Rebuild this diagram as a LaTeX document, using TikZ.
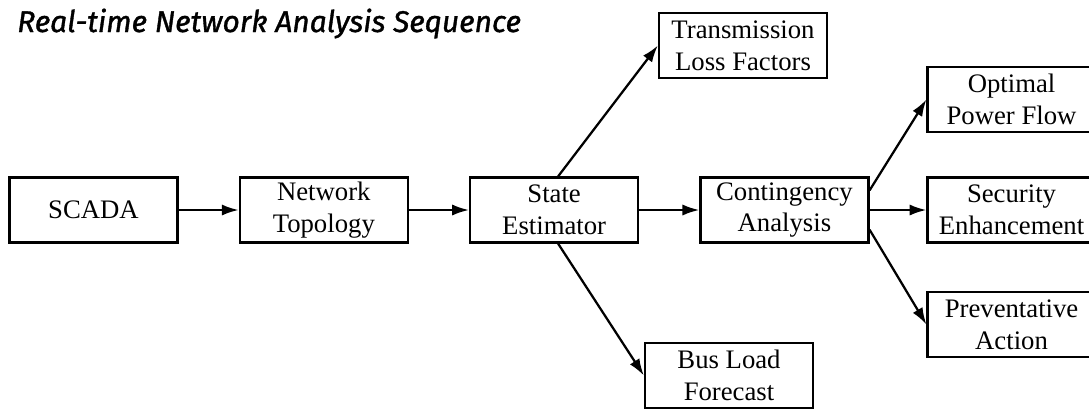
\documentclass[tikz,border=0pt]{standalone}
\usepackage{fontspec}
\setmainfont{Liberation Serif}
\newfontfamily\titlefont[FakeBold=1.2]{Fira Sans}
\usetikzlibrary{positioning, arrows.meta, calc}

\begin{document}
\begin{tikzpicture}[
    x=0.025cm, y=-0.025cm,
    >={Latex[length=0.42cm,width=0.28cm]},
    font=\fontsize{19}{22.5}\selectfont,
    node distance=1.5cm,
    stepbox/.style={
        draw, line width=1.6pt,
        minimum width=4.2cm, minimum height=1.625cm,
        align=center, inner sep=1pt,
    },
    flow/.style={
        ->, line width=1.6pt,
    },
    heading/.style={
        font=\titlefont\itshape\fontsize{21.3}{24}\selectfont,
        anchor=base west, inner sep=0pt,
    },
]
\useasboundingbox (0,0) rectangle (1089,410);

% Title
\node[heading] (title) at (17,32) {Real-time Network Analysis Sequence};

% Main row
\node[stepbox] (scada) at (93.5,210) {SCADA};
\node[stepbox, right=of scada] (topo) {Network\\Topology};
\node[stepbox, right=of topo] (estim) {State\\Estimator};
\node[stepbox, right=of estim] (conting) {Contingency\\Analysis};
\node[stepbox, right=1.42cm of conting] (secur) {Security\\Enhancement};

% Branches
\node[stepbox] (loss) at (743,45.5) {Transmission\\Loss Factors};
\node[stepbox] (busload) at (729,375.5) {Bus Load\\Forecast};
\node[stepbox, above=1.08cm of secur] (opf) {Optimal\\Power Flow};
\node[stepbox, below=1.18cm of secur] (prevent) {Preventative\\Action};

% Arrows
\draw[flow] (scada) -- (topo);
\draw[flow] (topo) -- (estim);
\draw[flow] (estim) -- (conting);
\draw[flow] (conting) -- (secur);
\draw[flow] ($(estim.north)+(4,0)$) -- (loss.west);
\draw[flow] ($(estim.south)+(4,0)$) -- (busload.west);
\draw[flow] (conting.13) -- (opf.west);
\draw[flow] (conting.-13) -- (prevent.west);

\end{tikzpicture}
\end{document}
